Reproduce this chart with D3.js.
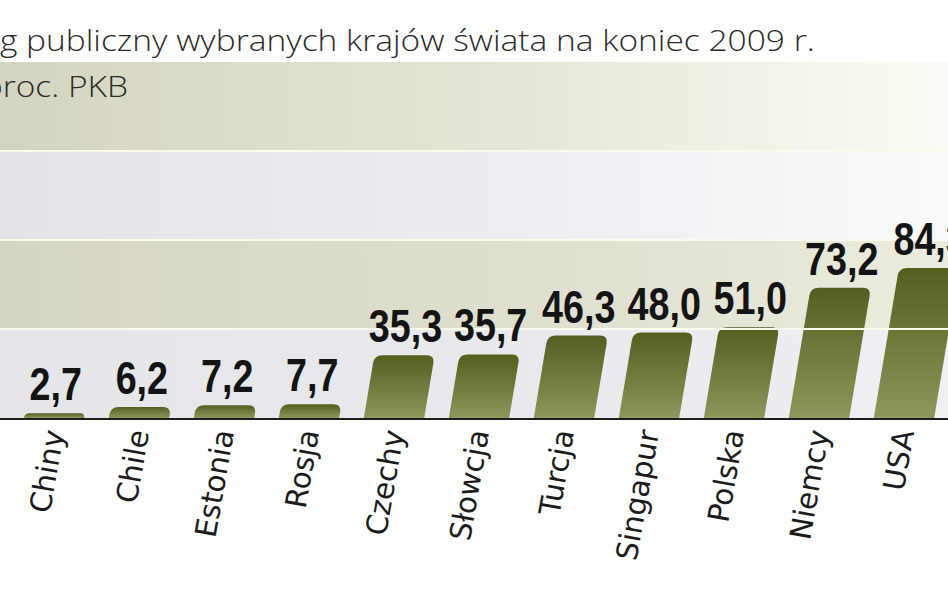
<!DOCTYPE html>
<html><head><meta charset="utf-8">
<script src="https://cdn.jsdelivr.net/npm/d3@7"></script>
<style>body{margin:0;background:#fff;overflow:hidden}svg{display:block}</style>
</head><body>
<svg id="c" width="948" height="593"></svg>
<script>
// ---- data ----
const categories = ["", "Chiny", "Chile", "Estonia", "Rosja", "Czechy", "Słowcja", "Turcja", "Singapur", "Polska", "Niemcy", "USA"];
const values = [1.0, 2.7, 6.2, 7.2, 7.7, 35.3, 35.7, 46.3, 48.0, 51.0, 73.2, 84.3];
const gridTicks = [0, 50, 100, 150, 200];
const titleText = "Dług publiczny wybranych krajów świata na koniec 2009 r.";
const subtitleText = "w proc. PKB";

// ---- layout ----
const W = 948, H = 593;
const svg = d3.select("#c");
const defs = svg.append("defs");
const x = d3.scaleBand().domain(categories).range([-73.5, 946.5]).paddingInner(0.29).paddingOuter(0.145);
const y = d3.scaleLinear().domain([0, 200]).range([418, 62]);
const skew = Math.tan(9.5 * Math.PI / 180);
const fmt = v => d3.format(".1f")(v).replace(".", ",");

// band gradients
function hGrad(id, c0, c1, c2) {
  const g = defs.append("linearGradient").attr("id", id).attr("x1", 0).attr("x2", 1).attr("y1", 0).attr("y2", 0);
  g.append("stop").attr("offset", 0).attr("stop-color", c0);
  g.append("stop").attr("offset", 0.55).attr("stop-color", c1);
  g.append("stop").attr("offset", 1).attr("stop-color", c2);
}
hGrad("band0", "#e4e6ea", "#e7e9ec", "#eef0f2");
hGrad("band1", "#d5d6c2", "#dfdfcf", "#ebebdf");
hGrad("band2", "#e2e4e8", "#eceef1", "#fafbfc");
hGrad("band3", "#d4d5c0", "#e6e6d8", "#fcfcf6");

const bands = d3.pairs(gridTicks);
svg.append("g").selectAll("rect").data(bands).join("rect")
  .attr("x", 0).attr("width", W)
  .attr("y", d => y(d[1])).attr("height", d => y(d[0]) - y(d[1]))
  .attr("fill", (d, i) => `url(#band${i})`);

// bar gradient
const bg = defs.append("linearGradient").attr("id", "barG").attr("x1", 0).attr("x2", 0).attr("y1", 0).attr("y2", 1);
bg.append("stop").attr("offset", 0).attr("stop-color", "#545e1f");
bg.append("stop").attr("offset", 1).attr("stop-color", "#8e975b");

function barPath(d, i) {
  const x0 = x(categories[i]), w = x.bandwidth();
  const yb = y(0), yt = y(d), h = yb - yt;
  const off = skew * h;
  const r = Math.min(8, h);
  const p = d3.path();
  p.moveTo(x0, yb);
  p.lineTo(x0 + off - skew * r, yt + r);
  p.quadraticCurveTo(x0 + off, yt, x0 + off + r, yt);
  p.lineTo(x0 + off + w - r, yt);
  p.quadraticCurveTo(x0 + off + w, yt, x0 + off + w - skew * r, yt + r);
  p.lineTo(x0 + w, yb);
  p.closePath();
  return p.toString();
}
svg.append("g").selectAll("path").data(values).join("path")
  .attr("d", barPath).attr("fill", "url(#barG)");

// separator lines (over bars)
svg.append("g").selectAll("line").data(gridTicks.slice(1, -1)).join("line")
  .attr("x1", 0).attr("x2", W).attr("y1", d => y(d)).attr("y2", d => y(d))
  .attr("stroke", "#fbfbec").attr("stroke-width", 2.2);

// baseline
svg.append("line").attr("x1", 0).attr("x2", W).attr("y1", y(0) + 1).attr("y2", y(0) + 1)
  .attr("stroke", "#1e1e1e").attr("stroke-width", 2);

// value labels
svg.append("g").selectAll("text").data(values).join("text")
  .attr("transform", (d, i) => {
    const h = y(0) - y(d);
    const cx = x(categories[i]) + x.bandwidth() / 2 + skew * h + 1;
    return `translate(${cx},${y(d) - 13}) scale(0.82,1)`;
  })
  .attr("text-anchor", "middle")
  .attr("font-family", "'Liberation Sans', Arial, sans-serif")
  .attr("font-weight", "bold").attr("font-size", 46).attr("fill", "#141414")
  .text(d => fmt(d));

// category labels
svg.append("g").selectAll("text").data(categories).join("text")
  .attr("transform", d => `translate(${x(d) + x.bandwidth() / 2},430) rotate(-80)`)
  .attr("text-anchor", "end").attr("dy", "0.35em")
  .attr("font-family", "'DejaVu Sans', Verdana, sans-serif")
  .attr("font-size", 29.5).attr("fill", "#1c1c1c")
  .text(d => d);

// title / subtitle (cropped on the left as in the reference)
const tFont = "'Open Sans', 'Noto Sans', sans-serif";
const tmp = svg.append("text").attr("font-family", tFont).attr("font-weight", 300).attr("font-size", 30);
const full = tmp.text(titleText).node().getComputedTextLength();
const pre = tmp.text("Dłu").node().getComputedTextLength();
tmp.remove();
const s = 815 / (full - pre);
svg.append("text").attr("transform", `scale(${s},1)`)
  .attr("x", -pre).attr("y", 51)
  .attr("font-family", tFont).attr("font-weight", 300).attr("font-size", 30).attr("fill", "#2b2b2b")
  .text(titleText);
svg.append("text").attr("transform", `scale(${s},1)`)
  .attr("x", 128 / s).attr("y", 97).attr("text-anchor", "end")
  .attr("font-family", tFont).attr("font-weight", 300).attr("font-size", 30).attr("fill", "#2b2b2b")
  .text(subtitleText);
</script>
</body></html>
